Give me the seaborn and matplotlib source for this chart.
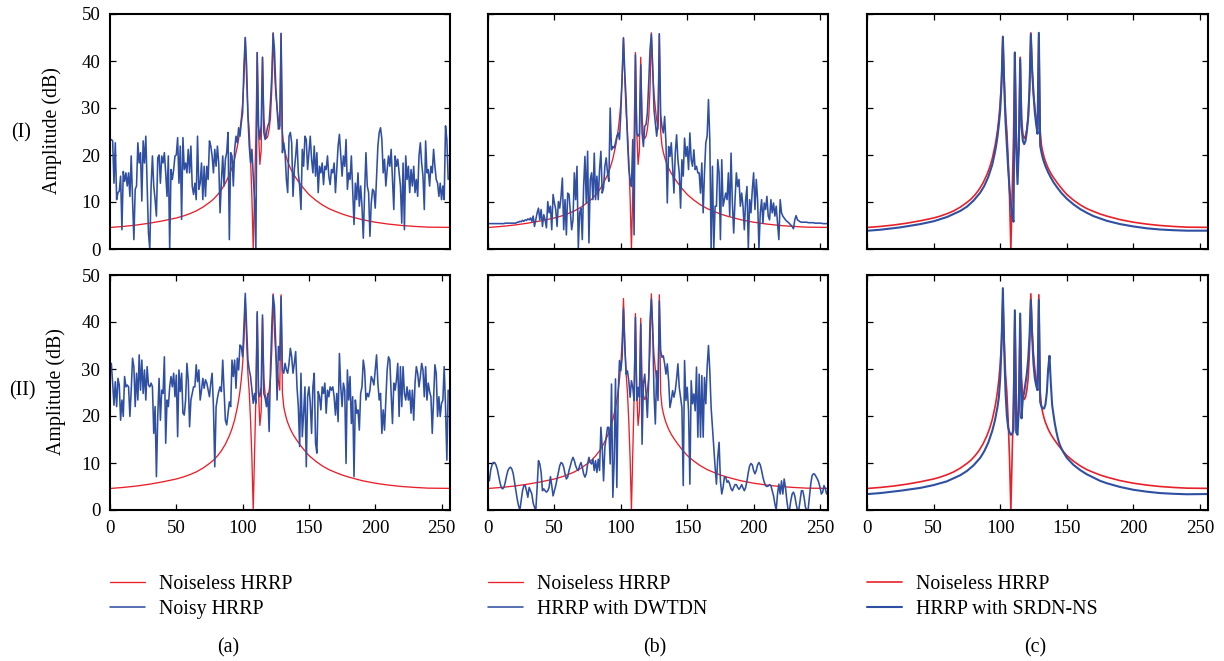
import numpy as np
import seaborn as sns
import matplotlib.pyplot as plt

RED = "#e8202a"
BLUE = "#2f4fa2"

# noiseless profile (same reference in every panel)
red_x = [1, 10, 20, 30, 40, 50, 55, 60, 65, 70, 75, 78, 81, 84, 87, 90, 92,
         94, 96, 97, 98, 99, 100, 101, 102, 103, 104, 105, 106, 107, 108, 109,
         110, 111, 112, 113, 114, 115, 116, 117, 118, 119, 120, 121, 122, 123,
         124, 125, 126, 127, 128, 129, 130, 131, 132, 133, 134, 136, 138, 140,
         143, 146, 150, 155, 160, 165, 170, 175, 180, 190, 200, 210, 220, 230,
         240, 256]
red_y = [4.6, 4.8, 5.1, 5.5, 6.0, 6.6, 7.0, 7.5, 8.1, 8.9, 9.9, 10.6, 11.5,
         12.6, 14.0, 15.8, 17.3, 19.2, 21.8, 23.4, 25.3, 27.8, 31, 36, 45, 36,
         29, 25, 19, 11, 0, 12, 24, 41.8, 25, 18, 21, 40.8, 28, 24.5, 23.5, 24,
         25.5, 28, 34, 46, 38, 33, 30, 27.5, 25.5, 45.8, 25, 22, 20.6, 19.5,
         18.6, 17.2, 16.1, 15.2, 14.0, 12.9, 11.6, 10.4, 9.4, 8.6, 8.0, 7.45,
         7.0, 6.25, 5.7, 5.3, 5.0, 4.8, 4.65, 4.6]

# (a)-I noisy HRRP, range cells 1..255
noisy_1 = [
    23.3, 23, 14, 22.6, 10.5, 12, 12.3, 15.5, 4.1, 16.5,
    14.4, 16.2, 13.4, 16.2, 11.2, 19.8, 10.5, 2, 12.7, 13.4,
    22.6, 18.3, 20.5, 10.2, 23, 18.3, 24, 13.4, 3.4, 0,
    13.4, 19.8, 13.4, 10.5, 7, 19.4, 20, 14, 19.8, 18.3,
    20.5, 16.2, 11.2, 19.8, 0, 16.9, 14.8, 16.9, 19.8, 20,
    23.7, 14, 21.9, 6.3, 23.7, 16.9, 18.3, 16.2, 21.2, 16.2,
    21.9, 13.4, 11.6, 14, 10.5, 24, 12.7, 14, 18.3, 10.5,
    17.6, 11.2, 17.6, 14.8, 23, 21.9, 19.8, 16.2, 21.2, 17.6,
    21.9, 18.3, 7.7, 14.4, 19.8, 13.4, 19.1, 20.5, 24.8, 2,
    20.5, 19.8, 13.4, 21.2, 24, 22.6, 25.8, 24, 26.9, 29,
    39, 45, 39, 28.3, 21.9, 18.3, 21.2, 15.5, 10.5, 0,
    41.8, 26.2, 23.3, 26.2, 40.8, 24.8, 23.3, 24.8, 26.2, 26.9,
    31.2, 36.8, 45.9, 42.5, 34.7, 29.7, 25.5, 26.2, 45.9, 20.5,
    22.6, 20.5, 14.8, 12, 24, 24.8, 22.6, 11.2, 16.9, 19.8,
    23.3, 16.2, 13.4, 8.4, 21.2, 17.6, 24, 23.3, 16.9, 20.5,
    24, 19.1, 16.2, 21.9, 15.5, 20.5, 12, 17.6, 16.2, 18.3,
    13.7, 17.6, 16.9, 19.8, 15.5, 13.7, 16.9, 16.2, 18.3, 12,
    16.9, 21.9, 24.4, 19.8, 15.5, 19.8, 17.6, 23.3, 12.7, 16.2,
    14.8, 19.8, 12.3, 5.2, 14, 10.5, 16.2, 9.1, 13.4, 9.1,
    2.3, 12, 20.5, 13.4, 12, 2.7, 9.8, 12.7, 12.3, 8.7,
    15.5, 21.9, 24.8, 25.8, 23.3, 16.2, 19.1, 13.4, 16.9, 19.8,
    17.6, 21.2, 14.8, 8.4, 19.8, 17.6, 19.1, 16.2, 13.4, 5.5,
    18.3, 4.1, 19.8, 14.8, 17.6, 12, 16.9, 13.4, 17.6, 12,
    14.8, 11.2, 19.8, 22.6, 18.3, 15.5, 8.4, 23, 16.2, 16.9,
    13.4, 17.6, 16.2, 21.2, 17.6, 14.8, 14, 11.2, 14, 10.5,
    13.4, 10.5, 26.2, 23.3, 14.8]

# (a)-II noisy HRRP, range cells 1..255
noisy_2 = [
    31.2, 27, 22.3, 27.3, 22, 28, 26.6, 19.1, 23.4, 19.9,
    28.4, 26.2, 26.6, 26.2, 19.9, 25.5, 32.3, 30.5, 22, 29.1,
    23.4, 33, 25.5, 31.9, 24.8, 29.8, 23.4, 30.5, 26.6, 26.2,
    27, 26.2, 16.3, 22, 7.1, 19.9, 28, 19.1, 25.5, 24.8,
    32.6, 14.2, 23.4, 22, 26.2, 28.4, 26.2, 29.1, 24.1, 28.7,
    15.6, 29.8, 25.2, 29.1, 20.6, 20.2, 23.4, 31.2, 27.7, 17.7,
    23.4, 24.8, 26.2, 26.2, 30.9, 27.3, 29.8, 23.4, 25.5, 28,
    25.9, 27.7, 27, 25.5, 24.1, 27, 29.1, 22, 9.2, 21.9,
    23.8, 25.2, 26.2, 25.2, 31.9, 25.5, 19.1, 18.1, 20.6, 23,
    22, 31.9, 28.4, 31.9, 25.9, 32.3, 29.8, 35.1, 34.8, 32.6,
    39, 46.1, 39, 31.9, 29.8, 28.4, 25.5, 22.7, 24.8, 22.7,
    42.2, 24.8, 24.1, 26.2, 41.5, 24.8, 23.8, 22, 24.8, 16.7,
    29.8, 39, 45.7, 43.3, 34.8, 23.4, 34.8, 31.9, 45.4, 29.8,
    29.1, 31.2, 29.8, 29.1, 31.2, 34.4, 32.6, 29.1, 31.2, 33.7,
    26.2, 22, 13.5, 29.1, 15.6, 20.6, 26.2, 9.2, 24.1, 26.2,
    22.7, 16.3, 26.2, 29.1, 14.2, 12.1, 25.2, 24.1, 21.3, 26.2,
    24.8, 27, 20.6, 25.5, 24.1, 26.2, 25.5, 26.2, 24.1, 20.2,
    24.8, 18.8, 33.3, 26.2, 22, 27, 25.5, 9.9, 29.8, 23.4,
    28.4, 18.4, 24.1, 7.1, 23.4, 20.6, 21.3, 17, 24.8, 26.2,
    31.9, 29.8, 23.4, 24.8, 24.1, 25.5, 28.4, 27.7, 26.6, 29.8,
    33, 27, 23.4, 24.8, 16.3, 21.3, 17, 23.4, 29.8, 32.6,
    31.9, 24.8, 18.4, 27, 25.5, 27.7, 31.2, 19.9, 30.5, 22,
    30.5, 24.8, 23.4, 26.2, 23.4, 25.5, 20.6, 25.5, 19.1, 27,
    30.5, 29.1, 26.2, 28.4, 31.2, 29.8, 24.1, 30.5, 23.4, 27,
    25.2, 24.1, 16.3, 23.4, 30.9, 29.1, 19.9, 24.1, 19.9, 22.7,
    23.4, 30.5, 22, 10.6, 25.5]

# (b)-I HRRP with DWTDN, range cells 1..256
dwt_1 = [
    5.4, 5.4, 5.4, 5.4, 5.4, 5.4, 5.4, 5.4, 5.4, 5.4,
    5.4, 5.4, 5.5, 5.5, 5.5, 5.5, 5.5, 5.5, 5.5, 5.5, 5.5,
    5.7, 5.7, 5.9, 5.8, 6.1, 5.9, 6.2, 6.1, 6.4, 6.2,
    6.6, 5.9, 7, 4.8, 6.2, 7.7, 8.7, 6.2, 8.4, 4.8,
    7.3, 6.2, 4.5, 10.1, 7.7, 9.1, 4.1, 11.6, 9.8, 8.4,
    4.8, 10.1, 8.7, 11.2, 15.1, 4.1, 10.5, 3, 11.9, 11.6,
    7.7, 4.1, 6.2, 16.2, 10.5, 17.6, 0.2, 7.7, 8.7, 2,
    13.3, 19.7, 9.8, 20.8, 1.3, 14.8, 16.2, 10.5, 20.4, 10.5,
    15.5, 10.5, 16.9, 20.8, 11.9, 13, 17.6, 19.4, 16.2, 14.4,
    30, 21.1, 21.8, 21.5, 22.6, 24, 24.7, 23.3, 28.9, 36.7,
    44.9, 37.4, 31.8, 23.3, 17.2, 14.8, 13.3, 23.3, 3,
    41.3, 24.7, 24, 24.5, 39.2, 24.7, 21.8, 26.1, 26.5, 28.9,
    35.3, 42.4, 45.7, 38.9, 29.6, 26.8, 24, 26.8, 45.8, 28.6,
    26, 24.7, 28.2, 22.6, 9.8, 21.8, 19.7, 22.6, 17.6, 11.9,
    20.4, 24.3, 19, 16.2, 8.7, 19, 15.5, 23.6, 19.7, 21.8,
    16.9, 24.7, 19, 17.6, 21.1, 16.9, 17.6, 16.2, 16.2, 11.9,
    18.3, 7.7, 16.2, 22.6, 24, 31.8, 23.3, 0, 17.6, 0,
    9.1, 9.1, 19, 16.2, 2, 19, 9.1, 10.5, 11.9, 10.5,
    16.2, 7, 20.4, 9.8, 3.4, 10.5, 16.2, 13.3, 14.8, 9.1,
    11.9, 9.1, 4.1, 10.5, 13.3, 0.2, 10.5, 7.7, 12.6, 16.2,
    8.4, 14.8, 10.5, 0, 7.7, 10.5, 5.5, 9.8, 8.4, 11.2,
    7, 6.2, 10.5, 7.7, 9.8, 7, 9.1, 5.5, 2, 10.5,
    7.7, 7, 6.6, 6.2, 5.9, 5.7, 5.4, 5.1, 4.8, 4.3,
    6.2, 7.1, 6.2, 6, 5.8, 5.7,
    5.7, 5.7, 5.7, 5.7, 5.6, 5.6, 5.6, 5.6, 5.6, 5.5,
    5.5, 5.5, 5.5, 5.5, 5.5, 5.4, 5.4, 5.4, 5.4, 5.4]

# (b)-II HRRP with DWTDN, range cells 1..255
dwt_2 = [
    6.2, 8.4, 9.6, 10.1, 10.1, 9.6, 8.7, 7.3, 5.9, 4.8,
    4.5, 4.8, 5.9, 7.3, 8.4, 8.9, 9.1, 8.7, 7.7, 5.9,
    4.1, 2.3, 0.9, 0, 2, 4.1, 5.2, 5.2, 4.1, 2.7,
    4.8, 4.1, 3.4, 1.5, 0.6, 0, 4.8, 10.5, 9.8, 8,
    4.1, 4.5, 4.1, 3.8, 4.1, 4.8, 7.1, 5.2, 3, 4.1,
    5.2, 6.6, 8, 9.4, 10.1, 9.9, 9.1, 7.7, 6.6, 7,
    8.4, 9.4, 10.5, 11.2, 10.5, 9.4, 8.7, 8.4, 9.4, 10.1,
    9.1, 7.7, 7, 7.7, 9.8, 11.2, 10.1, 9.8, 10.8, 8.4,
    10.5, 8, 10.8, 8.4, 17.6, 13.3, 6.2, 13.3, 15.5, 17.6,
    17.6, 9.8, 26.8, 2.7, 10.5, 27.9, 4.8, 24.7, 31.8, 29.6,
    32.5, 42.8, 34.6, 28.9, 29.6, 27.5, 24, 27.5, 26.1, 23.3,
    41, 23.3, 26.1, 24, 39.6, 14, 26.8, 28.9, 24.7, 19.7,
    27.5, 40.3, 44.9, 38.9, 24.7, 18.3, 29.6, 23.3, 44.5, 33.9,
    32.5, 32.8, 31.1, 28.9, 31.1, 27.5, 21.8, 23.3, 25.4, 24,
    25.4, 27.9, 31.1, 26.1, 24, 21.8, 5.2, 31.8, 23.3, 26.1,
    21.1, 5.5, 27.5, 22.6, 24.7, 21.1, 30.4, 15.5, 28.9, 15.5,
    28.6, 15.5, 28.2, 22.6, 30.4, 35, 29.6, 21.8, 17.6, 13.3,
    9.1, 5.5, 11.2, 14.4, 6.2, 3.4, 4.8, 7, 7, 5.9,
    6.2, 5.5, 4.5, 4.1, 4.8, 5.4, 5.4, 4.8, 4.4, 4.8,
    5.4, 4.7, 4.1, 4.8, 6.2, 8, 9.4, 9.9, 9.6, 8.4,
    7.7, 8.4, 9.6, 10.1, 9.6, 8.4, 7, 5.9, 5.2, 5,
    5.1, 5.4, 5.2, 4.1, 3, 1.3, 0, 3.4, 5.5, 3.4,
    6.2, 3.4, 6.6, 4.8, 2, 0, 0, 2, 3.4, 3.8,
    3, 1.3, 0, 0, 2, 4.1, 4.1, 2.7, 0.6, 0,
    0, 2.7, 5.5, 7.3, 7.7, 7.6, 7.1, 6.6, 5.9, 4.8,
    3.4, 3.8, 5.2, 4.5, 3.4]

# (c) HRRP with SRDN-NS
srdn_1_x = [1, 10, 25, 40, 50, 60, 70, 75, 80, 85, 88, 91, 94, 96, 97, 98,
            99, 100, 101, 102, 103, 104, 105, 106, 107, 108, 109, 110, 111,
            112, 113, 114, 115, 116, 117, 118, 119, 120, 121, 122, 123, 124,
            125, 126, 127, 128, 129, 130, 131, 132, 133, 134, 136, 138, 140,
            143, 146, 150, 155, 160, 165, 170, 175, 180, 190, 200, 210, 220,
            230, 240, 256]
srdn_1_y = [3.9, 4.1, 4.6, 5.3, 5.9, 6.8, 8.1, 9.0, 10.3, 12.0, 13.4, 15.3,
            17.9, 20.5, 22.1, 24, 26.5, 29.5, 35, 45.2, 35, 27, 22, 17, 13,
            9.5, 7, 5.8, 41.8, 22, 13.8, 22, 40.4, 26, 23, 22.3, 23, 25, 28,
            34, 45.7, 38, 33, 29, 26.5, 24.5, 46, 22, 20.5, 19.3, 18.4, 17.6,
            16.3, 15.2, 14.2, 13.0, 11.9, 10.7, 9.5, 8.5, 7.7, 7.0, 6.5, 6.0,
            5.3, 4.8, 4.4, 4.15, 4.0, 3.9, 3.9]
srdn_2_x = [1, 10, 25, 40, 50, 60, 70, 75, 80, 85, 88, 91, 94, 96, 97, 98,
            99, 100, 101, 102, 103, 104, 105, 106, 107, 108, 109, 110, 111,
            112, 113, 114, 115, 116, 117, 118, 119, 120, 121, 122, 123, 124,
            125, 126, 127, 128, 129, 130, 131, 132, 133, 134, 135, 136, 137,
            138, 139, 140, 141, 142, 143, 144, 145, 147, 150, 155, 160, 165,
            170, 175, 180, 190, 200, 210, 220, 230, 240, 256]
srdn_2_y = [3.4, 3.6, 4.1, 4.7, 5.3, 6.1, 7.4, 8.3, 9.5, 11.1, 12.5, 14.3,
            16.8, 19, 20.5, 22, 24, 28, 35, 47.2, 34, 25, 20, 17.5, 16.5, 16,
            16.2, 17, 42.5, 16.5, 16, 22, 41.8, 19.5, 23.8, 25, 27, 29, 32, 37,
            44.7, 37, 31, 28, 26.5, 25.5, 44.7, 23, 22, 21.6, 21.6, 22.5, 25,
            30, 32.8, 27, 22.3, 20.3, 18.4, 16.9, 15.6, 14.5, 13.7, 12.5, 11.1,
            9.6, 8.5, 7.6, 6.9, 6.2, 5.7, 4.9, 4.3, 3.9, 3.6, 3.45, 3.35, 3.4]

legend_labels = [
    ["Noiseless HRRP", "Noisy HRRP"],
    ["Noiseless HRRP", "HRRP with DWTDN"],
    ["Noiseless HRRP", "HRRP with SRDN-NS"],
]
panel_tags = ["(a)", "(b)", "(c)"]
row_tags = ["(I)", "(II)"]

blue_series = {
    (0, 0): (np.arange(1, len(noisy_1) + 1), noisy_1),
    (1, 0): (np.arange(1, len(noisy_2) + 1), noisy_2),
    (0, 1): (np.arange(1, len(dwt_1) + 1), dwt_1),
    (1, 1): (np.arange(1, len(dwt_2) + 1), dwt_2),
    (0, 2): (srdn_1_x, srdn_1_y),
    (1, 2): (srdn_2_x, srdn_2_y),
}

sns.set_theme(style="ticks", rc={
    "axes.edgecolor": "black", "text.color": "black",
    "xtick.color": "black", "ytick.color": "black",
    "axes.labelcolor": "black",
})
plt.rcParams["font.family"] = ["Liberation Serif", "DejaVu Serif"]

W, H = 1224, 661
col_left = [110, 488, 867]
col_width = [339.5, 340, 341]
row_top = [14, 275]
row_h = 235
FS = 14.3


def draw_panel(ax, bx, by, thick):
    sns.lineplot(x=red_x, y=red_y, ax=ax, color=RED, estimator=None,
                 sort=False, linewidth=1.2 if thick else 0.95)
    sns.lineplot(x=bx, y=by, ax=ax, color=BLUE, estimator=None,
                 sort=False, linewidth=1.5 if thick else 1.15)
    ax.set_xlim(0, 256)
    ax.set_ylim(0, 50)
    ax.set_xticks(range(0, 251, 50))
    ax.set_yticks(range(0, 51, 10))
    ax.set_xlabel("")
    ax.set_ylabel("")
    for s in ax.spines.values():
        s.set_linewidth(1.5)
        s.set_color("black")
    ax.tick_params(direction="in", length=4, width=0.9, top=True, right=True,
                   labelsize=13.6, pad=7)


fig = plt.figure(figsize=(12.24, 6.61), dpi=100)

for c in range(3):
    for r in range(2):
        ax = fig.add_axes([col_left[c] / W, 1 - (row_top[r] + row_h) / H,
                           col_width[c] / W, row_h / H])
        bx, by = blue_series[(r, c)]
        draw_panel(ax, bx, by, thick=(c == 2))
        if r == 0:
            ax.tick_params(labelbottom=False)
        if c > 0:
            ax.tick_params(labelleft=False)
        if r == 0 and c == 0:
            ax.tick_params(axis="x", length=0)
        if r == 1:
            handles = ax.lines[:2]
    fig.legend(handles, legend_labels[c], loc="center left",
               bbox_to_anchor=(col_left[c] / W, 1 - 597 / H),
               frameon=False, fontsize=FS, handlelength=1.75,
               handletextpad=0.7, labelspacing=0.32, borderpad=0,
               borderaxespad=0)

for x, tag in zip([228, 655, 1035], panel_tags):
    fig.text(x / W, 1 - 648 / H, tag, ha="center", va="center", fontsize=FS)

for (x, y), tag in zip([(21, 133), (22.5, 391)], row_tags):
    fig.text(x / W, 1 - y / H, tag, ha="center", va="center", fontsize=FS)

for x, y in [(52, 131), (56, 392)]:
    fig.text(x / W, 1 - y / H, "Amplitude (dB)", rotation=90, ha="center",
             va="center", fontsize=FS)

fig.savefig("out.png", dpi=100)
